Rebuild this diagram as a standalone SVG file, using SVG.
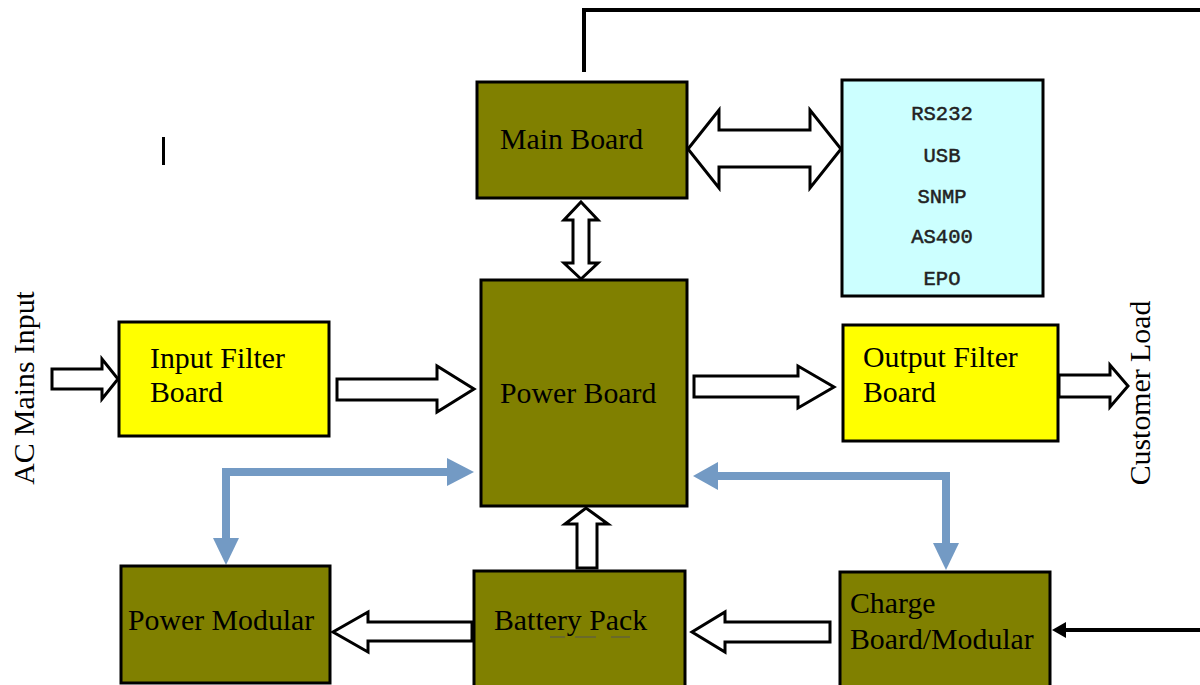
<svg xmlns="http://www.w3.org/2000/svg" width="1200" height="685" viewBox="0 0 1200 685">
<style>
.olive{fill:#808000;stroke:#000;stroke-width:3}
.yel{fill:#ffff00;stroke:#000;stroke-width:3}
.cyan{fill:#ccffff;stroke:#000;stroke-width:3}
.lbl{font-family:"Liberation Serif","Times New Roman",serif;font-size:29.8px;fill:#000}
.mono{font-family:"Liberation Mono","Courier New",monospace;font-size:20.5px;fill:#222;stroke:#222;stroke-width:0.5;text-anchor:middle}
.blk{fill:#fff;stroke:#000;stroke-width:3;stroke-linejoin:miter}
.blue{fill:none;stroke:#739ac4;stroke-width:8}
.bluehead{fill:#739ac4}
.wire{fill:none;stroke:#000;stroke-width:4}
</style>
<rect width="1200" height="685" fill="#fff"/>
<g id="connectors">
  <path class="wire" d="M584 72 V10 H1200"/>
  <path class="wire" d="M1200 630 H1064"/>
  <polygon points="1066,622 1052,630 1066,638" fill="#000"/>
  <polygon class="blk" points="688,149 719,110 719,130 810,130 810,110 841,149 810,188 810,167 719,167 719,188"/>
  <polygon class="blk" points="581,202 598,220 589,220 589,263 598,263 581,279 564,263 573,263 573,220 564,220"/>
  <polygon class="blk" points="52,369 102,369 102,359 118,379 102,399 102,389 52,389"/>
  <polygon class="blk" points="337,379 437,379 437,366 474,389 437,412 437,400 337,400"/>
  <polygon class="blk" points="694,376 798,376 798,366 834,387 798,408 798,397 694,397"/>
  <polygon class="blk" points="1059,375 1110,375 1110,365 1128,386 1110,407 1110,397 1059,397"/>
  <polygon class="blk" points="577,568 577,524 565,524 586,508 608,524 597,524 597,568"/>
  <polygon class="blk" points="472,622 368,622 368,612 333,632 368,652 368,641 472,641"/>
  <polygon class="blk" points="830,622 725,622 725,612 692,632 725,652 725,642 830,642"/>
  <path class="blue" d="M226 540 V472 H449"/>
  <polygon class="bluehead" points="447,458 474,472 447,486"/>
  <polygon class="bluehead" points="213,538 239,538 226,565"/>
  <path class="blue" d="M716 476 H946 V545"/>
  <polygon class="bluehead" points="718,462 693,476 718,490"/>
  <polygon class="bluehead" points="933,543 959,543 946,570"/>
</g>
<g id="main-board">
  <rect class="olive" x="477" y="82" width="210" height="116"/>
  <text class="lbl" x="500" y="149">Main Board</text>
</g>
<g id="comm-ports">
  <rect class="cyan" x="842" y="80" width="201" height="216"/>
  <text class="mono" x="942" y="120">RS232</text>
  <text class="mono" x="942" y="162">USB</text>
  <text class="mono" x="942" y="203">SNMP</text>
  <text class="mono" x="942" y="243">AS400</text>
  <text class="mono" x="942" y="285">EPO</text>
</g>
<g id="power-board">
  <rect class="olive" x="481" y="280" width="206" height="226"/>
  <text class="lbl" x="500" y="403">Power Board</text>
</g>
<g id="input-filter">
  <rect class="yel" x="119" y="322" width="210" height="114"/>
  <text class="lbl" x="150" y="368">Input Filter</text>
  <text class="lbl" x="150" y="402">Board</text>
</g>
<g id="output-filter">
  <rect class="yel" x="843" y="325" width="215" height="116"/>
  <text class="lbl" x="863" y="367">Output Filter</text>
  <text class="lbl" x="863" y="402">Board</text>
</g>
<g id="power-modular">
  <rect class="olive" x="121" y="566" width="209" height="117"/>
  <text class="lbl" x="128" y="630">Power Modular</text>
</g>
<g id="battery-pack">
  <rect class="olive" x="474" y="571" width="211" height="118"/>
  <text class="lbl" x="494" y="630">Battery Pack</text>
  <path d="M550 637 H565 M575 637 H596 M611 637 H630" stroke="#555" stroke-width="1.2"/>
</g>
<g id="charge-board">
  <rect class="olive" x="840" y="572" width="210" height="118"/>
  <text class="lbl" x="850" y="613">Charge</text>
  <text class="lbl" x="850" y="649">Board/Modular</text>
</g>
<g id="ac-mains-label">
  <text class="lbl" transform="translate(34 388) rotate(-90)" text-anchor="middle">AC Mains Input</text>
</g>
<g id="customer-load-label">
  <text class="lbl" transform="translate(1150 393) rotate(-90)" text-anchor="middle">Customer Load</text>
</g>
<rect x="162" y="137" width="3" height="28" fill="#000"/>
</svg>
